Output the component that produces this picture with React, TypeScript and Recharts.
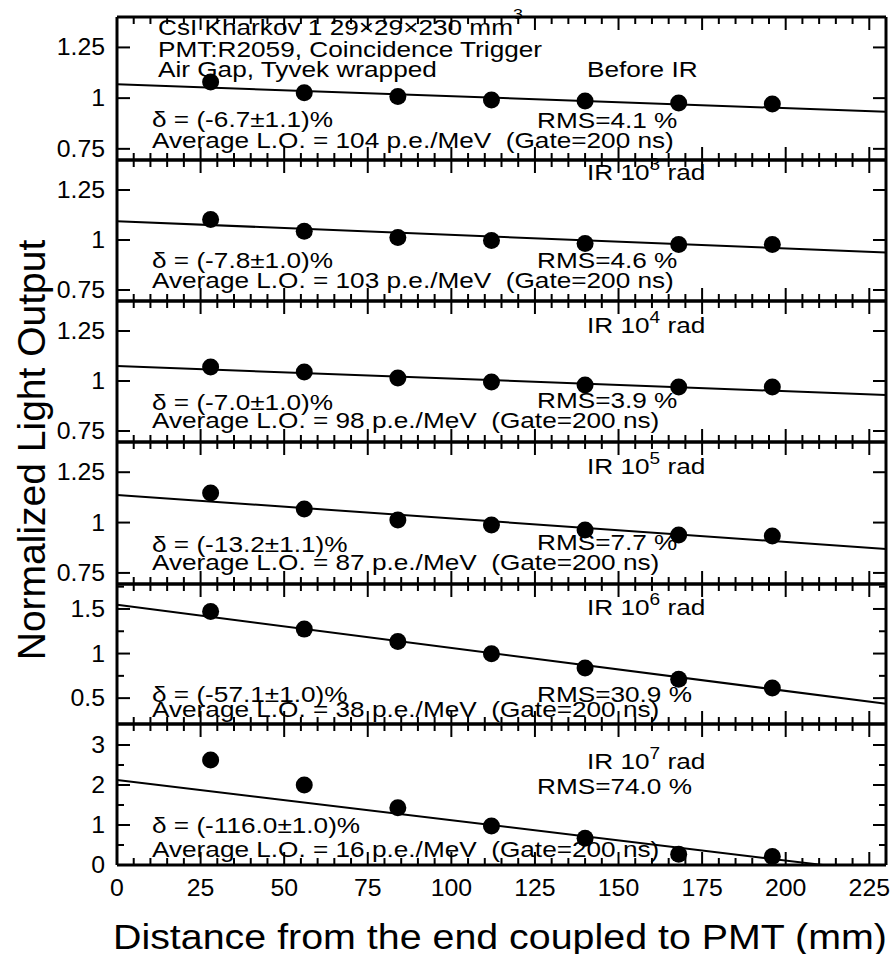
import React from 'react';
import { ScatterChart, Scatter, XAxis, YAxis, ReferenceLine } from 'recharts';

// ---------------- data ----------------
const distances = [28, 56, 84, 112, 140, 168, 196];
const loBeforeIR = [1.080, 1.027, 1.008, 0.991, 0.986, 0.976, 0.971];
const loIR1e3 = [1.102, 1.044, 1.013, 0.998, 0.983, 0.978, 0.978];
const loIR1e4 = [1.070, 1.045, 1.015, 0.995, 0.980, 0.970, 0.970];
const loIR1e5 = [1.147, 1.067, 1.013, 0.988, 0.963, 0.938, 0.933];
const loIR1e6 = [1.472, 1.274, 1.135, 0.997, 0.839, 0.712, 0.614];
const loIR1e7 = [2.625, 2.000, 1.430, 0.975, 0.670, 0.270, 0.210];
const panelSeries = [loBeforeIR, loIR1e3, loIR1e4, loIR1e5, loIR1e6, loIR1e7];

const fitAtStart = [1.068, 1.094, 1.075, 1.137, 1.547, 2.125];
const fitAtEnd = [0.933, 0.937, 0.930, 0.869, 0.436, -0.19];

const doseExponents = ['', '3', '4', '5', '6', '7'];
const deltaTexts = ['-6.7±1.1', '-7.8±1.0', '-7.0±1.0', '-13.2±1.1', '-57.1±1.0', '-116.0±1.0'];
const rmsTexts = ['4.1', '4.6', '3.9', '7.7', '30.9', '74.0'];
const avgLightOutput = ['104', '103', '98', '87', '38', '16'];

const yDomains: [number, number][] = [
  [0.695, 1.4], [0.695, 1.4], [0.695, 1.4], [0.695, 1.4], [0.21, 1.78], [0, 3.525],
];
const yTickValues = [
  [0.75, 1, 1.25], [0.75, 1, 1.25], [0.75, 1, 1.25], [0.75, 1, 1.25],
  [0.5, 0.75, 1, 1.25, 1.5, 1.75],
  [0, 0.5, 1, 1.5, 2, 2.5, 3],
];
const yTickLabels = [
  ['0.75', '1', '1.25'], ['0.75', '1', '1.25'], ['0.75', '1', '1.25'], ['0.75', '1', '1.25'],
  ['0.5', '', '1', '', '1.5', ''],
  ['0', '', '1', '', '2', '', '3'],
];
const xMajorTicks = [0, 25, 50, 75, 100, 125, 150, 175, 200, 225];
const xAllTicks: number[] = [];
for (let v = 0; v <= 230; v += 5) xAllTicks.push(v);
const X_MAX = 230;

// ---------------- layout ----------------
const FRAME_LEFT = 117;
const FRAME_RIGHT = 886;
const PAGE_W = 894;
const panelTop = [17, 160, 301, 442, 584, 724];
const panelBottom = [160, 301, 442, 584, 724, 865];

// annotation positions (page coords: baselines)
const deltaY = [127, 268, 410, 552, 702, 833];
const avgY = [148, 288, 428, 570, 717, 857];
const rmsY = [128, 268, 408, 550, 702, 794];
const irY = [77, 180, 333, 474, 615, 769];

const FONT = "'Liberation Sans', Arial, Helvetica, sans-serif";
const SX = 1.19;

const Ann = ({ x, y, size = 22, sx = SX, anchor = 'start', children }: any) => (
  <text
    transform={`translate(${x},${y}) scale(${sx},1)`}
    fontSize={size}
    fontFamily={FONT}
    textAnchor={anchor}
    fill="#000"
  >
    {children}
  </text>
);

const Dot = (props: any) => {
  const { cx, cy } = props;
  if (cx == null || cy == null) return null;
  return <circle cx={cx} cy={cy} r={8.5} fill="#000" />;
};

function makeXTick(panel: number) {
  const H = panelBottom[panel] - panelTop[panel];
  const last = panel === panelTop.length - 1;
  return (props: any) => {
    const { x, y, payload } = props;
    const v = payload.value;
    const major = xMajorTicks.includes(v);
    const len = major ? 13 : 7;
    return (
      <g>
        <line x1={x} y1={y} x2={x} y2={y - len} stroke="#000" strokeWidth={2} />
        <line x1={x} y1={y - H} x2={x} y2={y - H + len} stroke="#000" strokeWidth={2} />
        {last && major ? (
          <text
            transform={`translate(${x},${y + 31}) scale(1.08,1)`}
            textAnchor="middle"
            fontSize={23}
            fontFamily={FONT}
            fill="#000"
          >
            {String(v)}
          </text>
        ) : null}
      </g>
    );
  };
}

function makeYTick(panel: number) {
  const W = FRAME_RIGHT - FRAME_LEFT;
  return (props: any) => {
    const { x, y, payload, index } = props;
    const idx = yTickValues[panel].indexOf(payload.value);
    const label = yTickLabels[panel][idx >= 0 ? idx : index] || '';
    const len = label ? 13 : 7;
    return (
      <g>
        <line x1={x} y1={y} x2={x + len} y2={y} stroke="#000" strokeWidth={2} />
        <line x1={x + W} y1={y} x2={x + W - len} y2={y} stroke="#000" strokeWidth={2} />
        {label ? (
          <text
            transform={`translate(${x - 12},${y + 8}) scale(1.08,1)`}
            textAnchor="end"
            fontSize={23}
            fontFamily={FONT}
            fill="#000"
          >
            {label}
          </text>
        ) : null}
      </g>
    );
  };
}

const Panel = ({ i }: { i: number }) => {
  const mt = 12;
  const mb = i === panelTop.length - 1 ? 40 : 12;
  const h = panelBottom[i] - panelTop[i] + mt + mb;
  const dom = yDomains[i];
  const pts = distances.map((d, k) => ({ x: d, y: panelSeries[i][k] }));
  return (
    <div style={{ position: 'absolute', left: 0, top: panelTop[i] - mt }}>
      <ScatterChart
        width={PAGE_W}
        height={h}
        margin={{ top: mt, right: PAGE_W - FRAME_RIGHT, bottom: mb - 1, left: FRAME_LEFT - 1 }}
      >
        <XAxis
          xAxisId="b"
          dataKey="x"
          type="number"
          domain={[0, X_MAX]}
          allowDataOverflow
          ticks={xAllTicks}
          interval={0}
          height={1}
          tickSize={0}
          tickMargin={0}
          tickLine={false}
          axisLine={{ stroke: '#000', strokeWidth: 3 }}
          tick={makeXTick(i)}
        />
        <YAxis
          yAxisId="l"
          dataKey="y"
          type="number"
          domain={dom}
          allowDataOverflow
          ticks={yTickValues[i]}
          interval={0}
          width={1}
          tickSize={0}
          tickMargin={0}
          tickLine={false}
          axisLine={{ stroke: '#000', strokeWidth: 3 }}
          tick={makeYTick(i)}
        />
        <ReferenceLine xAxisId="b" yAxisId="l" y={dom[1]} stroke="#000" strokeWidth={3} />
        <ReferenceLine xAxisId="b" yAxisId="l" x={X_MAX} stroke="#000" strokeWidth={3} />
        <ReferenceLine
          xAxisId="b"
          yAxisId="l"
          segment={[{ x: 0, y: fitAtStart[i] }, { x: X_MAX, y: fitAtEnd[i] }]}
          stroke="#000"
          strokeWidth={2}
          ifOverflow="hidden"
        />
        <Scatter
          xAxisId="b"
          yAxisId="l"
          data={pts}
          fill="#000"
          shape={<Dot />}
          isAnimationActive={false}
        />
      </ScatterChart>
    </div>
  );
};

export default function App() {
  return (
    <div style={{ position: 'absolute', left: 0, top: 0, width: PAGE_W, height: 954, background: '#fff' }}>
      {panelTop.map((_, i) => (
        <Panel key={i} i={i} />
      ))}
      <svg
        width={PAGE_W}
        height={954}
        style={{ position: 'absolute', left: 0, top: 0, pointerEvents: 'none' }}
      >
        {/* header of first panel */}
        <Ann x={158} y={35}>
          CsI Kharkov 1 29×29×230 mm
          <tspan fontSize={15} dy={-16}>3</tspan>
        </Ann>
        <Ann x={158} y={57}>PMT:R2059, Coincidence Trigger</Ann>
        <Ann x={158} y={77}>Air Gap, Tyvek wrapped</Ann>

        {panelTop.map((_, i) => (
          <g key={i}>
            {i === 0 ? (
              <Ann x={587} y={irY[i]}>Before IR</Ann>
            ) : (
              <Ann x={587} y={irY[i]}>
                IR 10
                <tspan fontSize={16} dy={-10}>{doseExponents[i]}</tspan>
                <tspan dy={10}> rad</tspan>
              </Ann>
            )}
            <Ann x={152} y={deltaY[i]}>δ = ({deltaTexts[i]})%</Ann>
            <Ann x={152} y={avgY[i]}>
              Average L.O. = {avgLightOutput[i]} p.e./MeV{'\u00a0\u00a0'}(Gate=200 ns)
            </Ann>
            <Ann x={537} y={rmsY[i]}>RMS={rmsTexts[i]} %</Ann>
          </g>
        ))}

        {/* axis titles */}
        <Ann x={113} y={949} size={35} sx={1.125}>
          Distance from the end coupled to PMT (mm)
        </Ann>
        <text
          transform="translate(45,450) rotate(-90)"
          fontSize={39}
          fontFamily={FONT}
          textAnchor="middle"
          fill="#000"
        >
          Normalized Light Output
        </text>
      </svg>
    </div>
  );
}
